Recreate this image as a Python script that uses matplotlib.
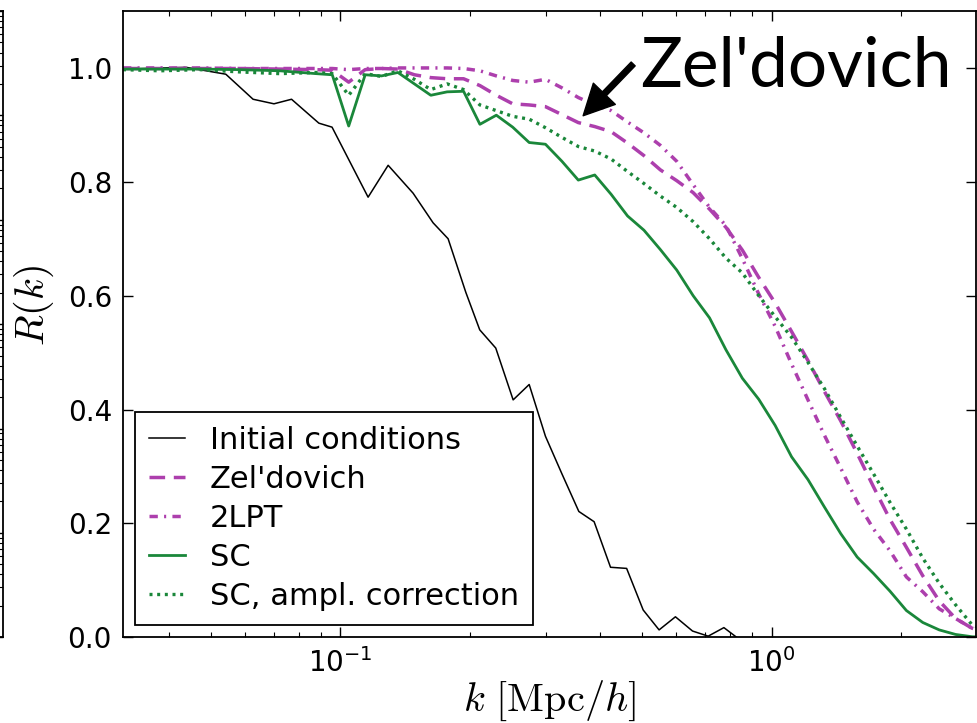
import matplotlib
matplotlib.use("Agg")
import matplotlib.pyplot as plt
from matplotlib.ticker import FixedLocator

# ---- data ----
# initial conditions use their own bin centres
k_ic = [0.0313, 0.0439, 0.0542, 0.0627, 0.0701, 0.0770, 0.0891, 0.0956,
        0.1159, 0.1290, 0.1474, 0.1640, 0.1777, 0.1953, 0.2104, 0.2292,
        0.2515, 0.2740, 0.2989, 0.3264, 0.3572, 0.3876, 0.4231, 0.4611,
        0.5037, 0.5484, 0.5984, 0.6556, 0.7128, 0.7752, 0.8466, 0.9246,
        1.007, 1.103]
r_ic = [0.998, 1.001, 0.989, 0.945, 0.937, 0.945, 0.903, 0.896,
        0.773, 0.829, 0.780, 0.728, 0.700, 0.606, 0.540, 0.508,
        0.417, 0.444, 0.353, 0.287, 0.221, 0.203, 0.123, 0.121,
        0.048, 0.013, 0.036, 0.011, 0.002, 0.017, -0.005, -0.02,
        -0.01, -0.03]

# bins shared by the displacement-field runs
k = [0.0313, 0.0381, 0.0472, 0.0584, 0.0723, 0.0877, 0.0957, 0.1045,
     0.1141, 0.1245, 0.1359, 0.1484, 0.1620, 0.1768, 0.1930, 0.2106,
     0.2299, 0.2509, 0.2740, 0.2989, 0.3264, 0.3562, 0.3889, 0.4245,
     0.4634, 0.5058, 0.5521, 0.6026, 0.6578, 0.7180, 0.7837, 0.8555,
     0.9339, 1.0195, 1.1128, 1.2146, 1.3257, 1.4472, 1.5796, 1.7244,
     1.8823, 2.0548, 2.2428, 2.4484, 2.6723, 2.9174, 3.1842]

r_zel = [0.999, 0.999, 0.999, 0.999, 0.998, 0.997, 0.996, 0.975,
         0.997, 0.999, 0.998, 0.988, 0.983, 0.981, 0.981, 0.969,
         0.952, 0.937, 0.935, 0.932, 0.918, 0.904, 0.897, 0.888,
         0.868, 0.846, 0.821, 0.802, 0.781, 0.752, 0.720, 0.680,
         0.632, 0.587, 0.537, 0.486, 0.432, 0.380, 0.323, 0.264,
         0.207, 0.158, 0.108, 0.064, 0.033, 0.016, 0.007]

r_2lpt = [1.000, 1.000, 1.000, 0.999, 0.999, 0.999, 0.999, 0.997,
          0.999, 0.999, 1.000, 1.000, 1.000, 1.000, 0.999, 0.995,
          0.986, 0.978, 0.975, 0.980, 0.965, 0.948, 0.935, 0.925,
          0.905, 0.886, 0.864, 0.836, 0.795, 0.755, 0.723, 0.665,
          0.603, 0.546, 0.480, 0.417, 0.355, 0.297, 0.238, 0.190,
          0.152, 0.106, 0.080, 0.050, 0.033, 0.016, 0.008]

r_sc = [0.998, 0.998, 0.998, 0.997, 0.995, 0.990, 0.988, 0.898,
        0.988, 0.986, 0.992, 0.972, 0.952, 0.958, 0.959, 0.901,
        0.917, 0.896, 0.869, 0.866, 0.836, 0.803, 0.812, 0.778,
        0.740, 0.715, 0.681, 0.645, 0.600, 0.561, 0.505, 0.455,
        0.418, 0.372, 0.317, 0.277, 0.229, 0.182, 0.141, 0.112,
        0.081, 0.047, 0.026, 0.013, 0.005, 0.001, 0.000]

r_sc_amp = [0.997, 0.995, 0.997, 0.993, 0.990, 0.992, 0.990, 0.952,
            0.990, 0.985, 0.995, 0.980, 0.962, 0.972, 0.962, 0.935,
            0.925, 0.915, 0.910, 0.895, 0.878, 0.862, 0.854, 0.840,
            0.818, 0.797, 0.775, 0.755, 0.730, 0.700, 0.666, 0.640,
            0.600, 0.563, 0.527, 0.483, 0.437, 0.386, 0.336, 0.287,
            0.237, 0.190, 0.139, 0.095, 0.057, 0.022, 0.010]

labels = ["Initial conditions", "Zel'dovich", "2LPT", "SC",
          "SC, ampl. correction"]

MAG = "#ad3fad"
GRN = "#1a873a"

W, H = 977, 723
fig = plt.figure(figsize=(W / 100, H / 100), dpi=100)
fig.patch.set_facecolor("white")

x0, x1, y0, y1 = 123, 976, 11, 637.3
ax = fig.add_axes([x0 / W, 1 - y1 / H, (x1 - x0) / W, (y1 - y0) / H])

# neighbour panel, only its right edge shows at the left border
axl = fig.add_axes([-0.5, 1 - y1 / H, 0.5 + 3 / W, (y1 - y0) / H])
axl.set_yscale("log")
axl.set_ylim(1e-1, 1e5)
axl.set_xticks([])
axl.yaxis.set_ticks_position("both")
axl.tick_params(which="both", direction="in", labelleft=False)
axl.tick_params(which="major", length=7, width=1)
axl.tick_params(which="minor", length=3.5, width=0.8)
for s in axl.spines.values():
    s.set_linewidth(1.3)

ax.plot(k_ic, r_ic, color="k", lw=1.1, label=labels[0])
ax.plot(k, r_zel, color=MAG, lw=2.5, ls=(0, (4.5, 2.5)), label=labels[1])
ax.plot(k, r_2lpt, color=MAG, lw=2.5, ls=(0, (2.4, 1.8, 0.6, 1.8)),
        label=labels[2])
ax.plot(k, r_sc, color=GRN, lw=2.0, label=labels[3])
ax.plot(k, r_sc_amp, color=GRN, lw=2.4, ls=(0, (0.9, 1.4)), label=labels[4])

ax.set_xscale("log")
ax.set_xlim(0.0313, 2.98)
ax.set_ylim(0, 1.1)
ax.yaxis.set_major_locator(FixedLocator([0.0, 0.2, 0.4, 0.6, 0.8, 1.0]))
ax.set_yticklabels(["0.0", "0.2", "0.4", "0.6", "0.8", "1.0"])

ax.tick_params(which="both", direction="in", top=True, right=True,
               labelsize=20)
ax.tick_params(which="major", length=7, width=1, pad=8)
ax.tick_params(which="minor", length=3.5, width=0.8)
for s in ax.spines.values():
    s.set_linewidth(1.3)

ax.set_xlabel(r"$k\ [\mathrm{Mpc}/h]$", fontsize=29, math_fontfamily="cm",
              labelpad=0)
ax.set_ylabel(r"$R(k)$", fontsize=29, math_fontfamily="cm")
ax.yaxis.set_label_coords(-0.078, 0.53)

leg = ax.legend(loc="lower left", bbox_to_anchor=(0.014, 0.02),
                borderaxespad=0, fontsize=22, fancybox=False,
                edgecolor="black", framealpha=1, handlelength=1.2,
                handletextpad=0.8, labelspacing=0.33, borderpad=0.45)
leg.get_frame().set_linewidth(1.3)

# big label with arrow pointing at the Zel'dovich curve
ax.annotate("", xy=(0.3655, 0.916), xytext=(0.4775, 1.007),
            arrowprops=dict(facecolor="black", edgecolor="black",
                            width=4, headwidth=22, headlength=22))
ax.text(0.495, 0.966, "Zel'dovich", fontsize=50, family="Lato",
        ha="left", va="baseline", color="black")

fig.savefig("out.png", dpi=100, facecolor="white")
